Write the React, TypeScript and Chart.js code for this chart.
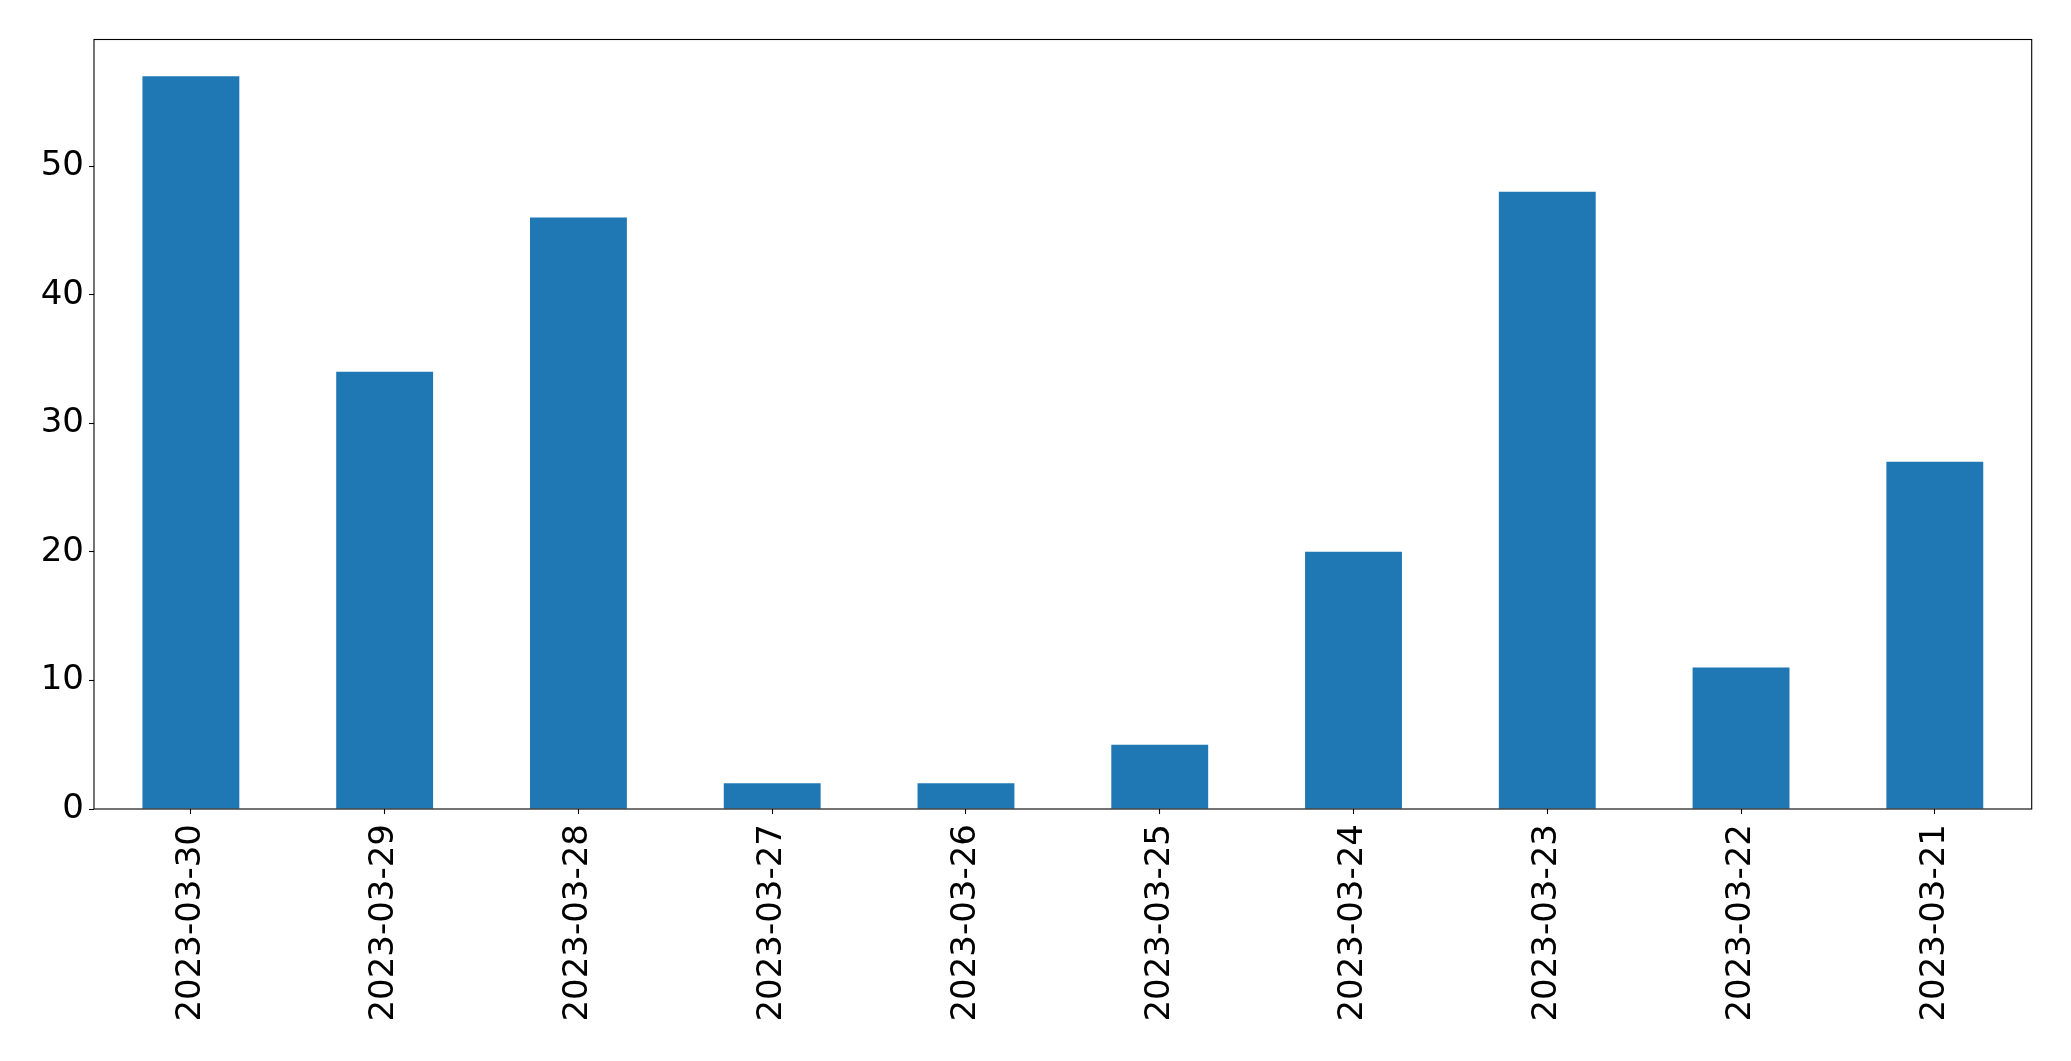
import React, { useEffect, useRef } from "react";
import { Chart, registerables } from "chart.js";

Chart.register(...registerables);

const categories = [
  "2023-03-30",
  "2023-03-29",
  "2023-03-28",
  "2023-03-27",
  "2023-03-26",
  "2023-03-25",
  "2023-03-24",
  "2023-03-23",
  "2023-03-22",
  "2023-03-21",
];
const values = [57, 34, 46, 2, 2, 5, 20, 48, 11, 27];
const yTicks = [0, 10, 20, 30, 40, 50];
const yMax = 59.85;

const W = 2071;
const H = 1061;

const frame = {
  id: "frame",
  afterDatasetsDraw(chart: any) {
    const { ctx, chartArea } = chart;
    ctx.save();
    ctx.strokeStyle = "#000";
    ctx.lineWidth = 1.1;
    ctx.strokeRect(chartArea.left, chartArea.top, chartArea.right - chartArea.left, chartArea.bottom - chartArea.top);
    ctx.restore();
  },
};

export default function App() {
  const ref = useRef<HTMLCanvasElement | null>(null);
  useEffect(() => {
    if (!ref.current) return;
    const font = { family: "'DejaVu Sans'", size: 34 };
    const chart = new Chart(ref.current, {
      type: "bar",
      data: {
        labels: categories,
        datasets: [
          {
            data: values,
            backgroundColor: "#1f77b4",
            borderWidth: 0,
            categoryPercentage: 0.5,
            barPercentage: 1,
          },
        ],
      },
      options: {
        animation: false,
        responsive: false,
        devicePixelRatio: 1,
        layout: { padding: { top: 39.5, right: 39.3, left: 0, bottom: 0 } },
        plugins: { legend: { display: false }, tooltip: { enabled: false } },
        scales: {
          x: {
            offset: true,
            grid: { display: true, offset: false, drawOnChartArea: false, drawTicks: true, tickLength: 5, tickColor: "#000", tickWidth: 1.1 },
            border: { display: false },
            ticks: { color: "#000", font, minRotation: 90, maxRotation: 90, padding: 10, autoSkip: false },
            afterFit(scale: any) {
              scale.height = 252;
            },
          },
          y: {
            min: 0,
            max: yMax,
            grid: { display: true, drawOnChartArea: false, drawTicks: true, tickLength: 5, tickColor: "#000", tickWidth: 1.1 },
            border: { display: false },
            ticks: { color: "#000", font, padding: 5, includeBounds: false },
            afterBuildTicks(scale: any) {
              scale.ticks = yTicks.map((v) => ({ value: v }));
            },
            afterFit(scale: any) {
              scale.width = 94;
            },
          },
        },
      },
      plugins: [frame],
    });
    return () => chart.destroy();
  }, []);
  return (
    <div style={{ position: "fixed", left: 0, top: 0, width: W, height: H, background: "#fff" }}>
      <canvas ref={ref} width={W} height={H} style={{ width: W, height: H, display: "block" }} />
    </div>
  );
}
